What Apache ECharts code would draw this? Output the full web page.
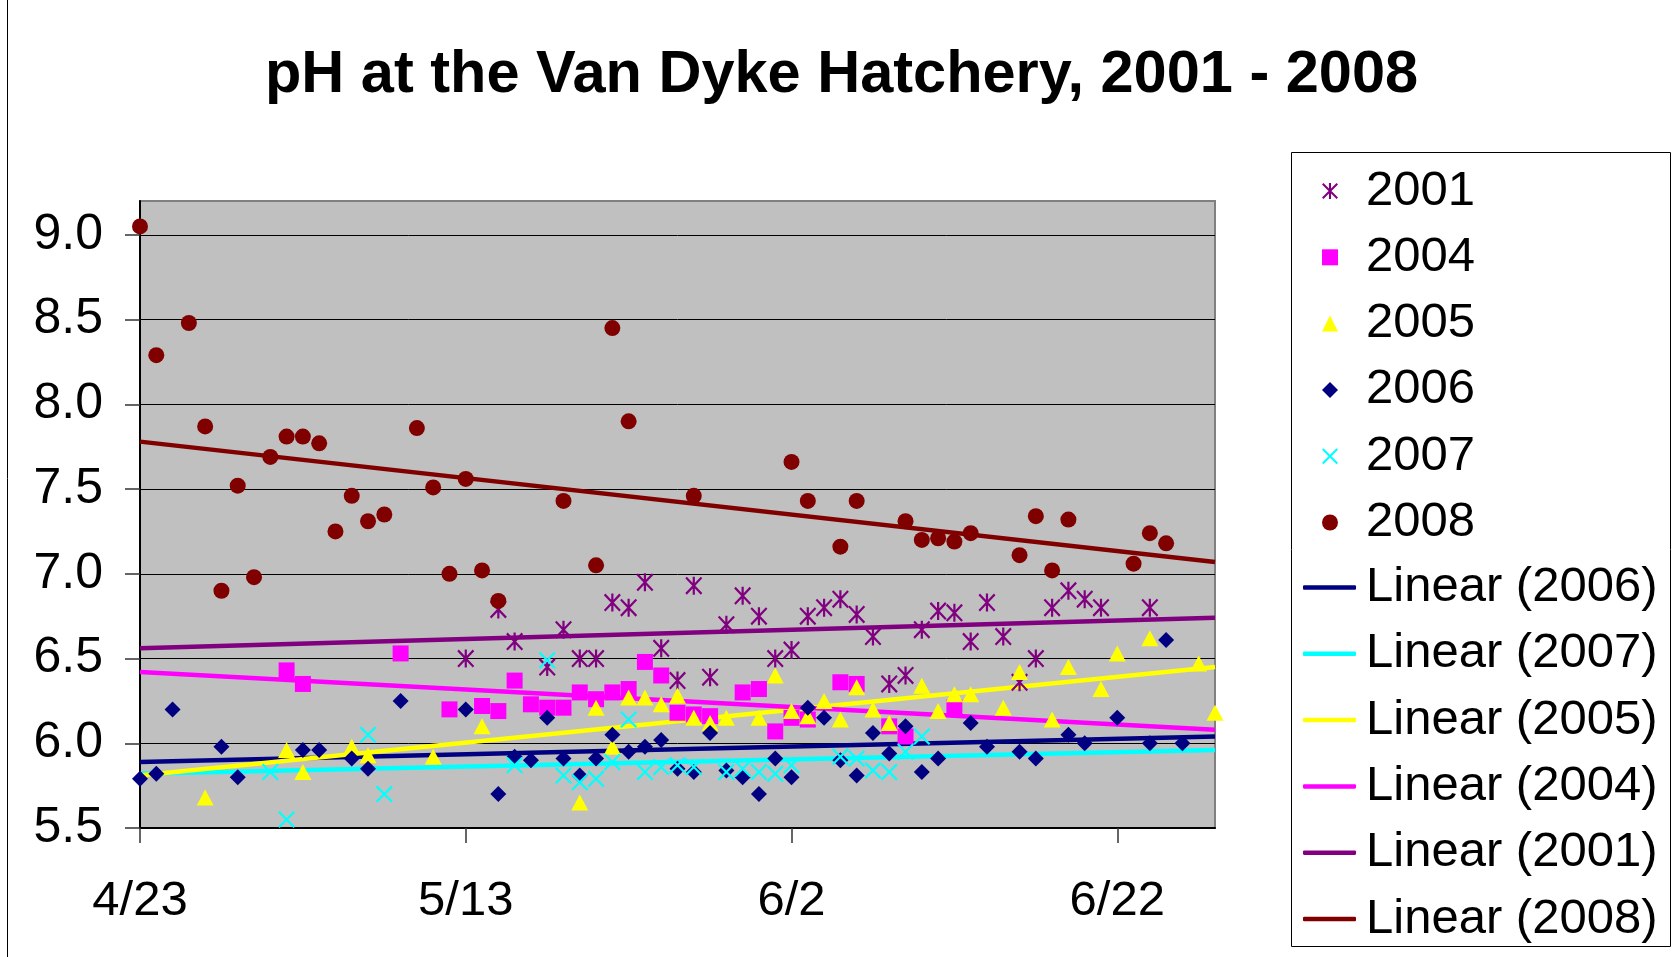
<!DOCTYPE html>
<html>
<head>
<meta charset="utf-8">
<script src="https://cdn.jsdelivr.net/npm/echarts@6/dist/echarts.min.js"></script>
<style>
html,body{margin:0;padding:0;background:#fff;}
#chart{width:1673px;height:957px;}
</style>
</head>
<body>
<div id="chart"></div>
<script>
// ---- data (dates are M/D, pH values) ----
const titleText = 'pH at the Van Dyke Hatchery, 2001 - 2008';
const xTickDates = ['4/23', '5/13', '6/2', '6/22'];
const xRange = ['4/23', '6/28'];
const yTicks = [5.5, 6.0, 6.5, 7.0, 7.5, 8.0, 8.5, 9.0];
const yRange = [5.5, 9.2];

const dates2001 = ['5/13','5/15','5/16','5/18','5/19','5/20','5/21','5/22','5/23','5/24','5/25','5/26','5/27','5/28','5/29','5/30','5/31','6/1','6/2','6/3','6/4','6/5','6/6','6/7','6/8','6/9','6/10','6/11','6/12','6/13','6/14','6/15','6/16','6/17','6/18','6/19','6/20','6/21','6/24'];
const ph2001 = [6.50,6.79,6.60,6.45,6.67,6.50,6.50,6.83,6.80,6.95,6.56,6.37,6.93,6.39,6.70,6.87,6.75,6.50,6.55,6.75,6.80,6.85,6.76,6.63,6.35,6.40,6.67,6.78,6.77,6.60,6.83,6.63,6.36,6.50,6.80,6.90,6.85,6.80,6.80];

const dates2004 = ['5/2','5/3','5/9','5/12','5/14','5/15','5/16','5/17','5/18','5/19','5/20','5/21','5/22','5/23','5/24','5/25','5/26','5/27','5/28','5/30','5/31','6/1','6/2','6/3','6/5','6/6','6/8','6/9','6/12'];
const ph2004 = [6.43,6.35,6.53,6.20,6.22,6.19,6.37,6.23,6.21,6.21,6.30,6.26,6.30,6.32,6.48,6.40,6.18,6.17,6.16,6.30,6.32,6.07,6.15,6.14,6.36,6.35,6.10,6.04,6.21];

const dates2005 = ['4/27','5/2','5/3','5/6','5/7','5/11','5/14','5/20','5/21','5/22','5/23','5/24','5/25','5/26','5/27','5/28','5/29','5/31','6/1','6/2','6/3','6/4','6/5','6/6','6/7','6/8','6/10','6/11','6/12','6/13','6/15','6/16','6/18','6/19','6/21','6/22','6/24','6/27','6/28'];
const ph2005 = [5.68,5.96,5.83,5.98,5.93,5.92,6.10,5.65,6.21,5.98,6.27,6.27,6.23,6.28,6.15,6.12,6.15,6.15,6.40,6.19,6.16,6.25,6.14,6.33,6.20,6.12,6.34,6.19,6.29,6.29,6.21,6.42,6.14,6.45,6.32,6.53,6.62,6.47,6.18];

const dates2006 = ['4/23','4/24','4/25','4/28','4/29','5/3','5/4','5/6','5/7','5/9','5/13','5/15','5/16','5/17','5/18','5/19','5/20','5/21','5/22','5/23','5/24','5/25','5/26','5/27','5/28','5/29','5/30','5/31','6/1','6/2','6/3','6/4','6/5','6/6','6/7','6/8','6/9','6/10','6/11','6/13','6/14','6/16','6/17','6/19','6/20','6/22','6/24','6/25','6/26'];
const ph2006 = [5.79,5.82,6.20,5.98,5.80,5.96,5.96,5.91,5.85,6.25,6.20,5.70,5.92,5.90,6.15,5.91,5.81,5.91,6.05,5.95,5.98,6.02,5.85,5.83,6.06,5.84,5.80,5.70,5.91,5.80,6.21,6.15,5.90,5.81,6.06,5.94,6.10,5.83,5.91,6.12,5.98,5.95,5.91,6.05,6.00,6.15,6.00,6.61,6.00];

const dates2007 = ['5/1','5/2','5/7','5/8','5/16','5/18','5/19','5/20','5/21','5/22','5/23','5/24','5/25','5/26','5/27','5/29','5/30','5/31','6/1','6/2','6/5','6/6','6/7','6/8','6/9','6/10'];
const ph2007 = [5.83,5.55,6.05,5.70,5.87,6.49,5.81,5.77,5.79,5.89,6.14,5.83,5.86,5.87,5.86,5.83,5.85,5.83,5.82,5.87,5.92,5.91,5.84,5.83,5.95,6.04];

const dates2008 = ['4/23','4/24','4/26','4/27','4/28','4/29','4/30','5/1','5/2','5/3','5/4','5/5','5/6','5/7','5/8','5/10','5/11','5/12','5/13','5/14','5/15','5/19','5/21','5/22','5/23','5/27','6/2','6/3','6/5','6/6','6/9','6/10','6/11','6/12','6/13','6/16','6/17','6/18','6/19','6/23','6/24','6/25'];
const ph2008 = [9.05,8.29,8.48,7.87,6.90,7.52,6.98,7.69,7.81,7.81,7.77,7.25,7.46,7.31,7.35,7.86,7.51,7.00,7.56,7.02,6.84,7.43,7.05,8.45,7.90,7.46,7.66,7.43,7.16,7.43,7.31,7.20,7.21,7.19,7.24,7.11,7.34,7.02,7.32,7.06,7.24,7.18];

// trend lines (Excel linear fits), pH read at the two ends of the date range
const trendNames = ['Linear (2006)', 'Linear (2007)', 'Linear (2005)', 'Linear (2004)', 'Linear (2001)', 'Linear (2008)'];
const trendStartPh = [5.89, 5.82, 5.81, 6.42, 6.56, 7.78];
const trendEndPh = [6.04, 5.96, 6.45, 6.08, 6.74, 7.07];

// ---- helpers ----
const BASE = Date.UTC(2001, 3, 23);
function dayOf(s) {
  const p = s.split('/').map(Number);
  return Math.round((Date.UTC(2001, p[0] - 1, p[1]) - BASE) / 86400000);
}
function labelOf(d) {
  const dt = new Date(BASE + Math.round(d) * 86400000);
  return (dt.getUTCMonth() + 1) + '/' + dt.getUTCDate();
}
function pts(dates, vals) { return dates.map((d, i) => [dayOf(d), vals[i]]); }

const FONT = "'Liberation Sans', Arial, sans-serif";
const xTickDays = xTickDates.map(dayOf);
const xMin = dayOf(xRange[0]), xMax = dayOf(xRange[1]);

// symbol paths
const xPath = 'path://M9,0 L100,91 L91,100 L0,9 Z M91,0 L100,9 L9,100 L0,91 Z';
const starPath = 'path://M9,0 L100,91 L91,100 L0,9 Z M91,0 L100,9 L9,100 L0,91 Z M43.5,0 L56.5,0 L56.5,100 L43.5,100 Z';

const scatterDefs = [
  { name: '2001', dates: dates2001, vals: ph2001, symbol: starPath, size: [17, 18], color: '#800080' },
  { name: '2004', dates: dates2004, vals: ph2004, symbol: 'rect', size: 16, color: '#FF00FF' },
  { name: '2005', dates: dates2005, vals: ph2005, symbol: 'triangle', size: [17, 16], color: '#FFFF00' },
  { name: '2006', dates: dates2006, vals: ph2006, symbol: 'diamond', size: [16, 16], color: '#000080' },
  { name: '2007', dates: dates2007, vals: ph2007, symbol: xPath, size: [17, 17], color: '#00FFFF' },
  { name: '2008', dates: dates2008, vals: ph2008, symbol: 'circle', size: 16, color: '#800000' }
];
const trendColors = ['#000080', '#00FFFF', '#FFFF00', '#FF00FF', '#800080', '#800000'];

const series = [];
trendNames.forEach((n, i) => {
  series.push({
    name: n, type: 'line', z: 1, symbol: 'none', silent: true,
    color: trendColors[i],
    lineStyle: { color: trendColors[i], width: 4.5 },
    data: [[xMin, trendStartPh[i]], [xMax, trendEndPh[i]]],
    animation: false
  });
});
scatterDefs.forEach(s => {
  series.push({
    name: s.name, type: 'scatter', z: 3, clip: false,
    symbol: s.symbol, symbolSize: s.size,
    color: s.color,
    itemStyle: { color: s.color, opacity: 1 },
    data: pts(s.dates, s.vals),
    animation: false
  });
});

const legendText = { fontFamily: FONT, fontSize: 49, lineHeight: 49, color: '#000' };

const chart = echarts.init(document.getElementById('chart'), null, { renderer: 'canvas' });
chart.setOption({
  animation: false,
  backgroundColor: '#ffffff',
  title: {
    text: titleText, left: 265, top: 46, padding: 0,
    textStyle: { fontFamily: FONT, fontSize: 59.5, fontWeight: 'bold', color: '#000' }
  },
  grid: {
    left: 140, top: 201, width: 1075, height: 627,
    show: true, backgroundColor: '#C0C0C0', borderColor: '#808080', borderWidth: 2,
    containLabel: false, outerBoundsMode: 'none'
  },
  xAxis: {
    type: 'value', min: xMin, max: xMax, interval: 20,
    axisLine: { show: true, onZero: false, lineStyle: { color: '#000', width: 2 } },
    axisTick: { show: true, length: 15, inside: false, customValues: xTickDays, lineStyle: { color: '#333', width: 1.5 } },
    axisLabel: {
      show: true, margin: 49, customValues: xTickDays,
      fontFamily: FONT, fontSize: 49, color: '#000',
      formatter: v => (xTickDays.indexOf(Math.round(v)) >= 0 ? labelOf(v) : '')
    },
    splitLine: { show: false }
  },
  yAxis: {
    type: 'value', min: yRange[0], max: yRange[1], interval: 0.5,
    axisLine: { show: true, onZero: false, lineStyle: { color: '#000', width: 2 } },
    axisTick: { show: true, length: 15, inside: false, customValues: yTicks, lineStyle: { color: '#333', width: 1.5 } },
    axisLabel: {
      show: true, margin: 37, customValues: yTicks,
      fontFamily: FONT, fontSize: 50, color: '#000', padding: [12, 0, 0, 0],
      formatter: v => (v > yTicks[yTicks.length - 1] + 0.01 ? '' : Number(v).toFixed(1))
    },
    splitLine: { show: true, lineStyle: { color: '#000', width: 1 } }
  },
  legend: [
    {
      data: scatterDefs.map(s => s.name),
      orient: 'vertical', left: 1322, top: 166.5, padding: 0,
      itemWidth: 16, itemHeight: 16, itemGap: 17.3, selectedMode: false,
      textStyle: Object.assign({ padding: [0, 0, 0, 23] }, legendText)
    },
    {
      data: trendNames,
      orient: 'vertical', left: 1303, top: 563, padding: 0,
      icon: 'roundRect',
      itemWidth: 53, itemHeight: 4.5, itemGap: 17.3, selectedMode: false,
      textStyle: Object.assign({ padding: [0, 0, 0, 5] }, legendText)
    }
  ],
  graphic: [
    { type: 'rect', silent: true, z: 0,
      shape: { x: 1291.5, y: 152.5, width: 379, height: 794 },
      style: { fill: 'none', stroke: '#000', lineWidth: 1 } },
    { type: 'line', silent: true, z: 0,
      shape: { x1: 7.5, y1: 0, x2: 7.5, y2: 957 },
      style: { stroke: '#000', lineWidth: 1 } }
  ],
  series: series
});
</script>
</body>
</html>
